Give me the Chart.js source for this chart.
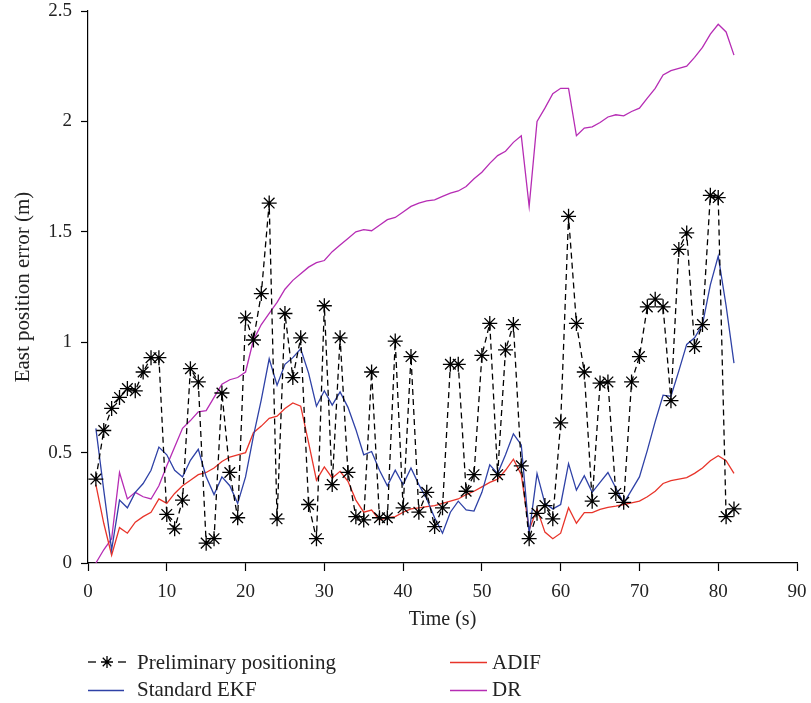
<!DOCTYPE html>
<html>
<head>
<meta charset="utf-8">
<title>East position error</title>
<script src="https://cdn.jsdelivr.net/npm/chart.js@4.4.1/dist/chart.umd.min.js"></script>
<style>
  html, body { margin: 0; padding: 0; background: #fff; }
  #wrap { width: 811px; height: 703px; position: relative; }
</style>
</head>
<body>
<div id="wrap"><canvas id="graficaError"></canvas></div>
<script>
// tiempo (s)
const tiempos = [1, 2, 3, 4, 5, 6, 7, 8, 9, 10, 11, 12, 13, 14, 15, 16, 17, 18, 19, 20,
  21, 22, 23, 24, 25, 26, 27, 28, 29, 30, 31, 32, 33, 34, 35, 36, 37, 38, 39, 40,
  41, 42, 43, 44, 45, 46, 47, 48, 49, 50, 51, 52, 53, 54, 55, 56, 57, 58, 59, 60,
  61, 62, 63, 64, 65, 66, 67, 68, 69, 70, 71, 72, 73, 74, 75, 76, 77, 78, 79, 80,
  81, 82];

const preliminar = [0.38, 0.60, 0.70, 0.75, 0.79, 0.78, 0.865, 0.93, 0.93, 0.22,
  0.155, 0.285, 0.88, 0.82, 0.09, 0.11, 0.77, 0.41, 0.205, 1.11,
  1.01, 1.22, 1.63, 0.20, 1.13, 0.84, 1.02, 0.265, 0.11, 1.165,
  0.355, 1.02, 0.41, 0.21, 0.195, 0.865, 0.205, 0.205, 1.005, 0.25,
  0.935, 0.23, 0.32, 0.165, 0.25, 0.90, 0.90, 0.325, 0.40, 0.94,
  1.085, 0.40, 0.965, 1.08, 0.44, 0.11, 0.225, 0.26, 0.20, 0.635,
  1.57, 1.085, 0.865, 0.28, 0.815, 0.82, 0.315, 0.275, 0.82, 0.935,
  1.16, 1.195, 1.16, 0.735, 1.42, 1.495, 0.98, 1.08, 1.665, 1.655,
  0.21, 0.245];

const ekf = [0.61, 0.33, 0.06, 0.285, 0.25, 0.32, 0.36, 0.42, 0.525, 0.49,
  0.42, 0.39, 0.465, 0.515, 0.39, 0.31, 0.39, 0.35, 0.27, 0.39,
  0.575, 0.74, 0.925, 0.805, 0.90, 0.93, 0.97, 0.86, 0.71, 0.78,
  0.715, 0.775, 0.705, 0.605, 0.49, 0.505, 0.42, 0.35, 0.42, 0.355,
  0.43, 0.355, 0.29, 0.205, 0.135, 0.23, 0.28, 0.24, 0.235, 0.32,
  0.445, 0.405, 0.49, 0.585, 0.535, 0.135, 0.405, 0.27, 0.245, 0.265,
  0.45, 0.33, 0.395, 0.32, 0.365, 0.41, 0.34, 0.27, 0.33, 0.39,
  0.51, 0.64, 0.76, 0.755, 0.87, 0.99, 1.02, 1.08, 1.26, 1.39,
  1.165, 0.905];

const adif = [0.355, 0.18, 0.035, 0.16, 0.135, 0.185, 0.21, 0.23, 0.29, 0.27,
  0.315, 0.35, 0.375, 0.40, 0.41, 0.43, 0.46, 0.48, 0.49, 0.50,
  0.59, 0.62, 0.655, 0.665, 0.70, 0.725, 0.71, 0.545, 0.375, 0.435,
  0.385, 0.415, 0.37, 0.285, 0.23, 0.24, 0.195, 0.205, 0.21, 0.23,
  0.245, 0.25, 0.255, 0.26, 0.27, 0.28, 0.29, 0.31, 0.325, 0.345,
  0.365, 0.38, 0.42, 0.47, 0.40, 0.15, 0.245, 0.14, 0.11, 0.135,
  0.25, 0.18, 0.228, 0.228, 0.243, 0.252, 0.258, 0.265, 0.272, 0.28,
  0.30, 0.325, 0.36, 0.373, 0.38, 0.387, 0.406, 0.43, 0.463, 0.486,
  0.463, 0.406];

const dr = [0.0, 0.06, 0.11, 0.41, 0.29, 0.32, 0.30, 0.29, 0.35, 0.44,
  0.525, 0.61, 0.645, 0.685, 0.69, 0.75, 0.81, 0.83, 0.84, 0.865,
  1.01, 1.08, 1.13, 1.18, 1.24, 1.28, 1.31, 1.34, 1.36, 1.37,
  1.41, 1.44, 1.47, 1.50, 1.51, 1.505, 1.53, 1.555, 1.565, 1.59,
  1.615, 1.63, 1.64, 1.645, 1.66, 1.675, 1.685, 1.705, 1.74, 1.77,
  1.81, 1.845, 1.865, 1.905, 1.935, 1.615, 2.0, 2.06, 2.125, 2.15,
  2.15, 1.935, 1.97, 1.975, 1.995, 2.02, 2.03, 2.025, 2.045, 2.06,
  2.105, 2.15, 2.21, 2.23, 2.24, 2.25, 2.29, 2.335, 2.395, 2.44,
  2.405, 2.30];

const ticksX = [0, 10, 20, 30, 40, 50, 60, 70, 80, 90];
const ticksY = [0, 0.5, 1, 1.5, 2, 2.5];

const fuente = "'Liberation Serif', 'Times New Roman', serif";
const colores = {
  preliminar: "#000000",
  ekf: "#2e41a6",
  adif: "#e8342a",
  dr: "#b62cb4"
};

const puntos = serie => tiempos.map((t, i) => ({ x: t, y: serie[i] }));

// leyenda en dos columnas debajo del eje X
const leyenda = {
  id: "leyenda",
  afterDraw(chart) {
    const ctx = chart.ctx;
    ctx.save();
    ctx.font = "21px " + fuente;
    ctx.fillStyle = "#222";
    ctx.textBaseline = "alphabetic";
    ctx.lineWidth = 1.3;

    const linea = (x0, x1, y, color) => {
      ctx.strokeStyle = color;
      ctx.beginPath();
      ctx.moveTo(x0, y);
      ctx.lineTo(x1, y);
      ctx.stroke();
    };

    // Preliminary positioning: guion - estrella - guion
    linea(88, 96, 662, "#000");
    linea(118, 126, 662, "#000");
    const cx = 107, cy = 662, r = 6;
    ctx.strokeStyle = "#000";
    ctx.beginPath();
    ctx.moveTo(cx - r, cy); ctx.lineTo(cx + r, cy);
    ctx.moveTo(cx, cy - r); ctx.lineTo(cx, cy + r);
    const d = r * Math.SQRT1_2;
    ctx.moveTo(cx - d, cy - d); ctx.lineTo(cx + d, cy + d);
    ctx.moveTo(cx - d, cy + d); ctx.lineTo(cx + d, cy - d);
    ctx.stroke();
    ctx.fillText("Preliminary positioning", 137, 669);

    linea(88, 124, 690.5, colores.ekf);
    ctx.fillText("Standard EKF", 137, 696);

    linea(450, 487, 662.5, colores.adif);
    ctx.fillText("ADIF", 492, 669);

    linea(450, 487, 690.5, colores.dr);
    ctx.fillText("DR", 492, 696);
    ctx.restore();
  }
};

const ctx = document.getElementById("graficaError").getContext("2d");

new Chart(ctx, {
  type: "line",
  data: {
    datasets: [
      {
        label: "Preliminary positioning",
        data: puntos(preliminar),
        borderColor: colores.preliminar,
        borderWidth: 1.3,
        borderDash: [6, 4],
        pointStyle: "star",
        pointRadius: 7.5,
        pointBorderColor: "#000",
        pointBorderWidth: 1.3,
        tension: 0
      },
      {
        label: "Standard EKF",
        data: puntos(ekf),
        borderColor: colores.ekf,
        borderWidth: 1.3,
        pointRadius: 0,
        tension: 0
      },
      {
        label: "ADIF",
        data: puntos(adif),
        borderColor: colores.adif,
        borderWidth: 1.3,
        pointRadius: 0,
        tension: 0
      },
      {
        label: "DR",
        data: puntos(dr),
        borderColor: colores.dr,
        borderWidth: 1.3,
        pointRadius: 0,
        tension: 0
      }
    ]
  },
  options: {
    responsive: true,
    maintainAspectRatio: false,
    animation: false,
    layout: {
      padding: { top: 11, right: 14, bottom: 71, left: 0 }
    },
    plugins: {
      legend: { display: false },
      tooltip: { enabled: false }
    },
    scales: {
      x: {
        type: "linear",
        min: 0,
        max: 90,
        afterFit: scale => {
          scale.height = 69;
          scale.paddingLeft = 0;
          scale.paddingRight = 0;
        },
        afterBuildTicks: scale => { scale.ticks = ticksX.map(v => ({ value: v })); },
        border: { display: true, color: "#000", width: 1.2 },
        grid: { drawOnChartArea: false, tickLength: 8, color: "#000", tickWidth: 1.2 },
        ticks: {
          color: "#222",
          padding: 10,
          maxRotation: 0,
          font: { family: fuente, size: 19 }
        },
        title: {
          display: true,
          text: "Time (s)",
          color: "#222",
          padding: { top: 0, bottom: 0 },
          font: { family: fuente, size: 20 }
        }
      },
      y: {
        min: 0,
        max: 2.5,
        afterFit: scale => {
          scale.width = 88;
          scale.paddingTop = 0;
          scale.paddingBottom = 0;
        },
        afterBuildTicks: scale => { scale.ticks = ticksY.map(v => ({ value: v })); },
        border: { display: true, color: "#000", width: 1.2 },
        grid: { drawOnChartArea: false, tickLength: 7, color: "#000", tickWidth: 1.2 },
        ticks: {
          color: "#222",
          padding: 9,
          callback: v => String(v),
          font: { family: fuente, size: 19, lineHeight: 1 }
        },
        title: {
          display: true,
          text: "East position error (m)",
          color: "#222",
          padding: { top: 11, bottom: 0 },
          font: { family: fuente, size: 21 }
        }
      }
    }
  },
  plugins: [leyenda]
});
</script>
</body>
</html>
